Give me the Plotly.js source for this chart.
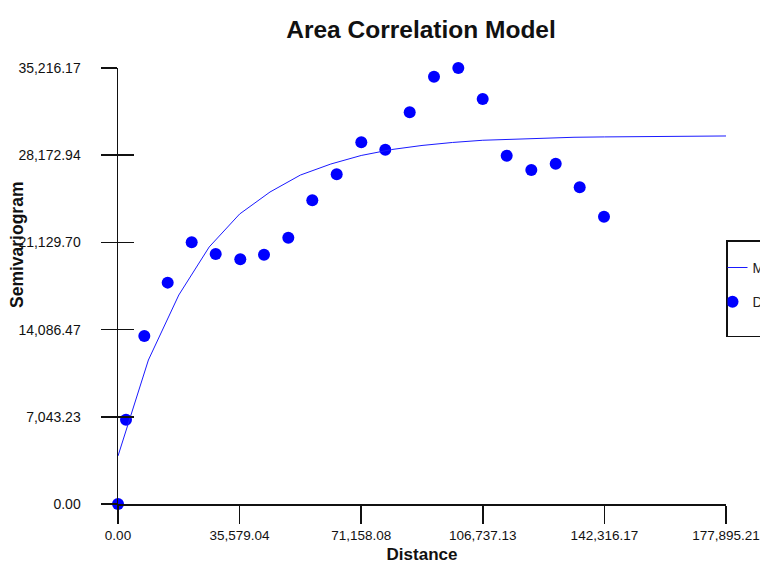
<!DOCTYPE html>
<html>
<head>
<meta charset="utf-8">
<script src="https://cdn.plot.ly/plotly-3.0.1.min.js"></script>
<style>html,body{margin:0;padding:0;background:#fff;}#chart{width:760px;height:564px;}</style>
</head>
<body>
<div id="chart"></div>
<script>
// Empirical semivariogram points
const dataDist = [0, 2340, 7700, 14540, 21560, 28590, 35780, 42720, 49830, 56850, 63990, 71190, 78210, 85350, 92460, 99570, 106710, 113730, 120930, 128070, 135090, 142200];
const dataGamma = [0, 6800, 13570, 17880, 21140, 20190, 19770, 20140, 21510, 24530, 26630, 29220, 28620, 31640, 34510, 35216.17, 32710, 28130, 26980, 27490, 25580, 23210];

// Fitted model curve (read vertices)
const modelDist = [0, 8895, 17790, 26684, 35579, 44474, 53369, 62263, 71158, 80053, 88948, 97842, 106737, 115632, 124527, 133421, 142316, 151211, 160106, 169000, 177895.21];
const modelGamma = [3880, 11630, 16880, 20760, 23420, 25200, 26570, 27460, 28150, 28630, 28960, 29200, 29380, 29480, 29560, 29620, 29650, 29680, 29700, 29715, 29725];

// Tick values / labels
const xTickVals = [0, 35579.04, 71158.08, 106737.13, 142316.17, 177895.21];
const xTickText = ["0.00", "35,579.04", "71,158.08", "106,737.13", "142,316.17", "177,895.21"];
const yTickVals = [0, 7043.23, 14086.47, 21129.70, 28172.94, 35216.17];
const yTickText = ["0.00", "7,043.23", "14,086.47", "21,129.70", "28,172.94", "35,216.17"];

const FONT = "Liberation Sans, Arial, sans-serif";

const traces = [
  {
    x: modelDist, y: modelGamma, name: "Model", type: "scatter", mode: "lines",
    line: {color: "#1a1aff", width: 1}, yaxis: "y2", legendgroup: "m", cliponaxis: false
  },
  {
    x: dataDist, y: dataGamma, name: "Data<br> ", type: "scatter", mode: "markers",
    marker: {color: "#0000ff", size: 12}, legendgroup: "d", cliponaxis: false
  }
];

const yaxisBase = {
  range: [0, 35216.17], tickmode: "array", tickvals: yTickVals,
  showgrid: false, zeroline: false, fixedrange: true
};

const layout = {
  width: 760, height: 564,
  margin: {l: 118, r: 34, t: 68, b: 60, autoexpand: false},
  paper_bgcolor: "#fff", plot_bgcolor: "#fff",
  font: {family: FONT, color: "#111", size: 14},
  title: {
    text: "<b>Area Correlation Model</b>",
    font: {family: FONT, size: 24.5, color: "#111"},
    x: 0.554, xanchor: "center", xref: "container",
    y: 1 - 29/564, yanchor: "middle", yref: "container"
  },
  xaxis: {
    range: [0, 177895.21], tickmode: "array", tickvals: xTickVals, ticktext: xTickText,
    showgrid: false, zeroline: false, showline: true, linecolor: "#111", linewidth: 1.5,
    ticks: "outside", ticklen: 18, tickwidth: 1.5, tickcolor: "#111",
    ticklabelstandoff: 0,
    tickfont: {family: FONT, size: 13.5, color: "#111"},
    title: {text: "<b>Distance</b>", font: {family: FONT, size: 17, color: "#111"}, standoff: 9}
  },
  yaxis: Object.assign({}, yaxisBase, {
    ticktext: yTickText, showline: true, linecolor: "#111", linewidth: 1.5,
    ticks: "outside", ticklen: 16, tickwidth: 1.5, tickcolor: "#111",
    ticklabelstandoff: 17,
    tickfont: {family: FONT, size: 14, color: "#111"}
  }),
  yaxis2: Object.assign({}, yaxisBase, {
    overlaying: "y", side: "left", showline: false,
    ticks: "inside", ticklen: 16, tickwidth: 1.5, tickcolor: "#111",
    showticklabels: false
  }),
  annotations: [{
    text: "<b>Semivariogram</b>", textangle: -90, showarrow: false,
    xref: "paper", yref: "paper", x: (17 - 118) / 608, y: (504 - 245) / 436,
    xanchor: "center", yanchor: "middle",
    font: {family: FONT, size: 17.5, color: "#111"}
  }],
  showlegend: true,
  legend: {
    x: 1, xanchor: "left", y: (504 - 240) / 436, yanchor: "top",
    bgcolor: "#fff", bordercolor: "#111", borderwidth: 1.5,
    font: {family: FONT, size: 14, color: "#222"},
    title: {text: "&nbsp;", font: {size: 8}},
    valign: "top",
    traceorder: "grouped", tracegroupgap: 13, indentation: -15
  }
};

Plotly.newPlot("chart", traces, layout, {displayModeBar: false, staticPlot: true});
</script>
</body>
</html>
